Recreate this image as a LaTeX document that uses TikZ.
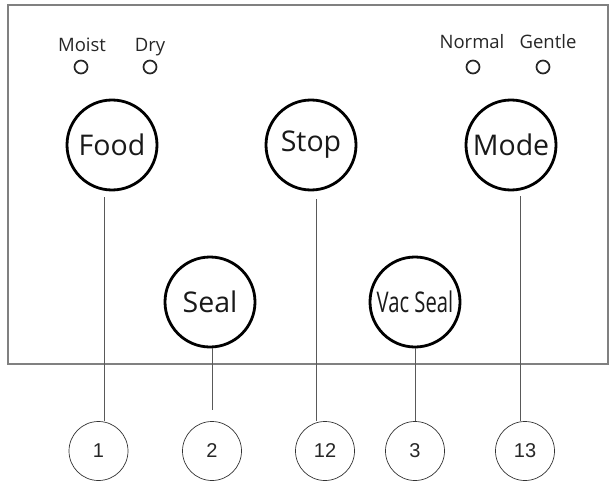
\documentclass[tikz,border=0pt]{standalone}
\usepackage{fontspec}
\setmainfont{Open Sans}
\newfontfamily\numfont{Liberation Sans}

\tikzset{
  button/.style={draw, circle, line width=2.8pt, minimum size=90pt, inner sep=0pt,
    font=\fontsize{28.5}{28.5}\selectfont, text=black!90},
  led/.style={draw=black!85, circle, line width=1.7pt, minimum size=13pt, inner sep=0pt},
  ledlabel/.style={anchor=base, font=\fontsize{18.5}{18.5}\selectfont, text=black!85},
  callout/.style={draw=black!80, circle, line width=0.7pt, minimum size=59pt, inner sep=0pt,
    font=\numfont\fontsize{20}{20}\selectfont, text=black!85},
  leader/.style={draw=black!65, line width=0.8pt}
}

\begin{document}
\begin{tikzpicture}[x=1pt, y=-1pt]
  \useasboundingbox (0,0) rectangle (615,484);

  % --- Control panel ---
  \draw[draw=black!50, line width=1.4pt] (8,5) rectangle (608,364);

  % --- Indicator lights ---
  \node[ledlabel] (moisttxt) at (82,52) {Moist};
  \node[ledlabel] (drytxt) at (150,52) {Dry};
  \node[ledlabel] (normaltxt) at (472,49) {Normal};
  \node[ledlabel] (gentletxt) at (548,49) {Gentle};
  \node[led] (moist) at (81,67) {};
  \node[led] (dry) at (150,67) {};
  \node[led] (normal) at (473,67) {};
  \node[led] (gentle) at (543,67) {};

  % --- Buttons ---
  \node[button] (food) at (112,145) {Food};
  \node[button] (stop) at (311,145) {Stop};
  \node[button] (mode) at (511,145) {Mode};
  \node[button] (seal) at (210,302) {Seal};
  \node[button] (vacseal) at (415,302) {\scalebox{0.71}[1]{Vac Seal}};

  % --- Callouts ---
  \node[callout] (c1) at (98.5,451) {1};
  \node[callout] (c2) at (212,451) {2};
  \node[callout] (c12) at (325,451) {12};
  \node[callout] (c3) at (415,451) {3};
  \node[callout] (c13) at (525,451) {13};

  % --- Leader lines ---
  \coordinate (t1) at (104,197);
  \coordinate (e2) at (212,410);
  \coordinate (t12) at (316,199);
  \coordinate (t13) at (520,196);
  \draw[leader] (t1) -- (t1 |- c1.north);
  \draw[leader] (e2 |- seal.south) -- (e2);
  \draw[leader] (t12) -- (t12 |- c12.north);
  \draw[leader] (vacseal.south) -- (c3.north);
  \draw[leader] (t13) -- (t13 |- c13.north);

\end{tikzpicture}
\end{document}
